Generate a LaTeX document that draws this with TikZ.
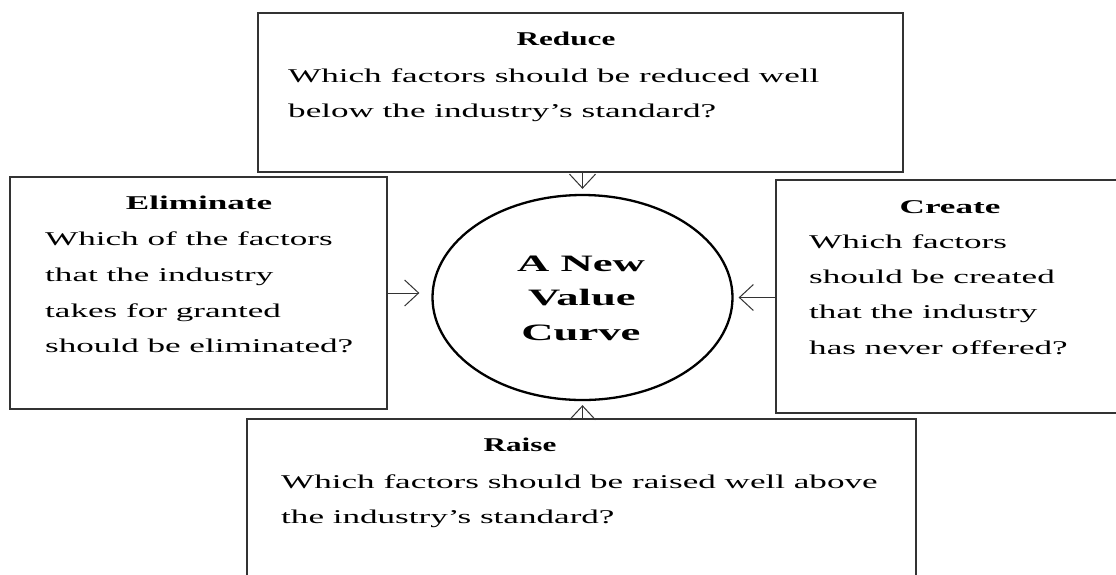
\documentclass[tikz,border=0pt]{standalone}
\usepackage{fontspec}
\setmainfont{Liberation Serif}
\newfontfamily\bodyf{Liberation Serif}[FakeStretch=1.8]
\newfontfamily\headf{Liberation Serif}[FakeStretch=1.6]
\newfontfamily\circf{Liberation Serif}[FakeStretch=1.9]
\usetikzlibrary{shapes.geometric,arrows.meta}
\begin{document}
\begin{tikzpicture}[x=1pt,y=-1pt,
  box/.style={draw=black!80, line width=1.8pt, rectangle, inner sep=0pt},
  body/.style={anchor=base west, inner sep=0pt, font=\bodyf\fontsize{19.5}{35}\selectfont},
  head/.style={anchor=base, inner sep=0pt, font=\bodyf\bfseries\fontsize{19.5}{35}\selectfont},
  headn/.style={anchor=base, inner sep=0pt, font=\headf\bfseries\fontsize{19.5}{35}\selectfont},
  ctext/.style={anchor=base, inner sep=0pt, font=\circf\bfseries\fontsize{23.5}{35}\selectfont},
  arr/.style={draw=black!80, line width=1pt, -{Straight Barb[length=14pt,width=26pt]}}]
\useasboundingbox (0,0) rectangle (1116,574);
\clip (0,0) rectangle (1116,574);
\fill[white] (0,0) rectangle (1116,574);
% boxes
\node[box, minimum width=645pt, minimum height=159pt] (reduce) at (580.5,92.5) {};
\node[box, minimum width=377pt, minimum height=232pt] (elim) at (198.5,293) {};
\node[box, minimum width=360pt, minimum height=233pt] (create) at (956,296.5) {};
\node[box, minimum width=669pt, minimum height=200pt] (raise) at (581.5,519) {};
\node[ellipse, draw=black, line width=2.3pt, minimum width=300pt, minimum height=205pt, inner sep=0pt] (circ) at (582.5,297.5) {};
% arrows
\coordinate (tt) at ([yshift=5pt]circ.north);
\draw[arr] (reduce.south -| tt) -- (tt);
\coordinate (tb) at ([yshift=-4pt]circ.south);
\draw[arr] (raise.north -| tb) -- (tb);
\coordinate (tl) at ([xshift=-12pt,yshift=4.5pt]circ.west);
\draw[arr] (elim.east |- tl) -- (tl);
\coordinate (tr) at ([xshift=5pt]circ.east);
\draw[arr] (create.west |- tr) -- (tr);
% circle text
\node[ctext] (c1) at (581,271.5) {A New};
\node[ctext] (c2) at (582,305.5) {Value};
\node[ctext] (c3) at (581,340) {Curve};
% Reduce
\node[headn] (rh) at (566,45) {Reduce};
\node[body] (r1) at (288,82) {Which factors should be reduced well};
\node[body] (r2) at (288,117) {below the industry’s standard?};
% Eliminate
\node[head] (eh) at (199,209) {Eliminate};
\node[body] (e1) at (45,245) {Which of the factors};
\node[body] (e2) at (45,281) {that the industry};
\node[body] (e3) at (45,317) {takes for granted};
\node[body] (e4) at (45,352) {should be eliminated?};
% Create
\node[head] (ch) at (950,213) {Create};
\node[body] (cr1) at (809,248) {Which factors};
\node[body] (cr2) at (809,283) {should be created};
\node[body] (cr3) at (809,318) {that the industry};
\node[body] (cr4) at (809,354) {has never offered?};
% Raise
\node[headn] (rah) at (520,451) {Raise};
\node[body] (ra1) at (281,488) {Which factors should be raised well above};
\node[body] (ra2) at (281,523) {the industry’s standard?};
\end{tikzpicture}
\end{document}
